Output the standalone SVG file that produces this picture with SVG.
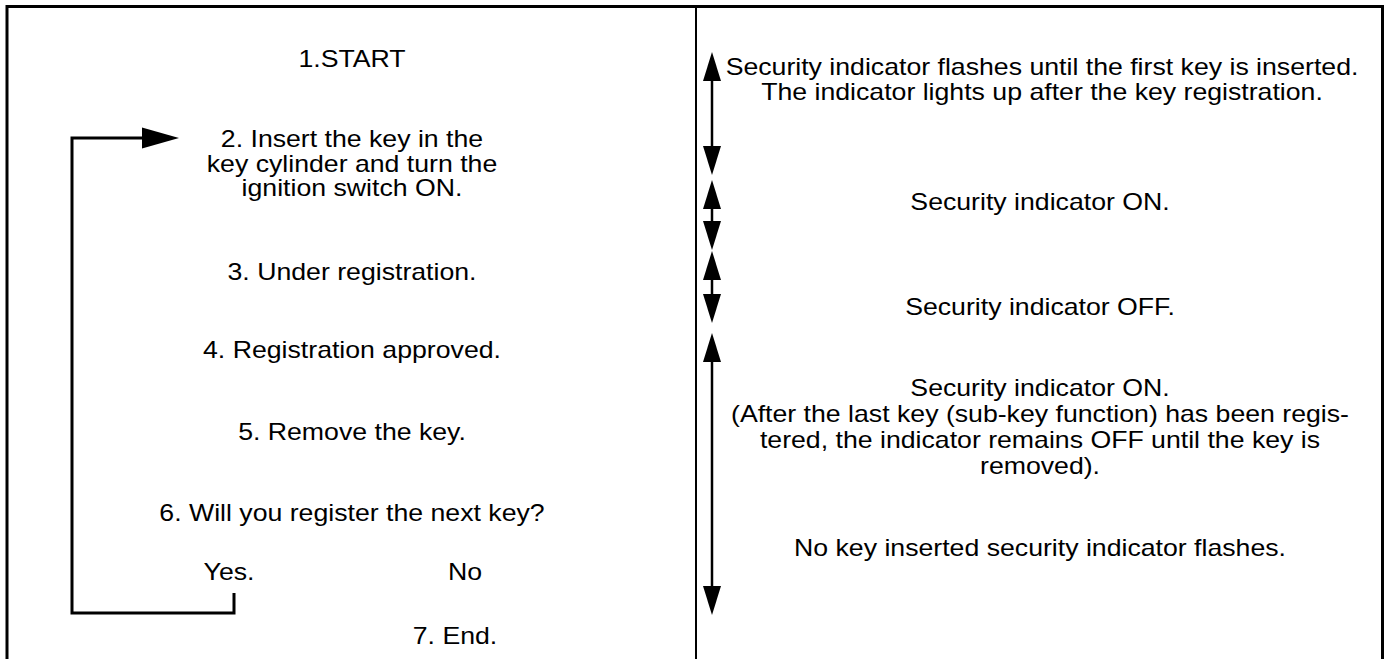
<svg xmlns="http://www.w3.org/2000/svg" width="1388" height="659" viewBox="0 0 1388 659">
<style>
  text { font-family: "Liberation Sans", Arial, Helvetica, sans-serif; font-size: 23.4px; fill: #000; text-anchor: middle; }
  .frame { fill: none; stroke: #000; stroke-width: 3; }
  .div { fill: none; stroke: #000; stroke-width: 2; }
  .conn { fill: none; stroke: #000; stroke-width: 3; }
  .span { fill: none; stroke: #000; stroke-width: 2.5; }
  .head { fill: #000; stroke: none; }
</style>
<rect width="1388" height="659" fill="#fff"/>
<g id="frame">
  <path class="frame" d="M7,659 V6.5 H1382.5 V659"/>
  <line class="div" x1="696" y1="6" x2="696" y2="659"/>
</g>
<g id="connectors">
  <path class="conn" d="M234,593 V613 H72 V138 H144"/>
  <polygon class="head" points="142,127.5 179,138 142,148.5"/>
  <line class="span" x1="712" y1="70" x2="712" y2="160"/>
  <polygon class="head" points="712,52 721,81 703,81"/>
  <polygon class="head" points="703,146 721,146 712,175"/>
  <line class="span" x1="712" y1="200" x2="712" y2="235"/>
  <polygon class="head" points="712,180 721,209 703,209"/>
  <polygon class="head" points="703,221 721,221 712,250"/>
  <line class="span" x1="712" y1="270" x2="712" y2="310"/>
  <polygon class="head" points="712,251 721,280 703,280"/>
  <polygon class="head" points="703,294 721,294 712,323"/>
  <line class="span" x1="712" y1="350" x2="712" y2="600"/>
  <polygon class="head" points="712,333 721,362 703,362"/>
  <polygon class="head" points="703,586 721,586 712,615"/>
</g>
<g id="n1"><text transform="matrix(1.14,0,0,1,352,67)">1.START</text></g>
<g id="n2">
  <text transform="matrix(1.14,0,0,1,352,147)">2. Insert the key in the</text>
  <text transform="matrix(1.14,0,0,1,352,172)">key cylinder and turn the</text>
  <text transform="matrix(1.14,0,0,1,352,196)">ignition switch ON.</text>
</g>
<g id="n3"><text transform="matrix(1.14,0,0,1,352,280)">3. Under registration.</text></g>
<g id="n4"><text transform="matrix(1.14,0,0,1,352,358)">4. Registration approved.</text></g>
<g id="n5"><text transform="matrix(1.14,0,0,1,352,440)">5. Remove the key.</text></g>
<g id="n6"><text transform="matrix(1.14,0,0,1,352,521)">6. Will you register the next key?</text></g>
<g id="yes"><text transform="matrix(1.14,0,0,1,229,580)">Yes.</text></g>
<g id="no"><text transform="matrix(1.14,0,0,1,465,580)">No</text></g>
<g id="n7"><text transform="matrix(1.14,0,0,1,455,644)">7. End.</text></g>
<g id="r1">
  <text transform="matrix(1.14,0,0,1,1042,75)">Security indicator flashes until the first key is inserted.</text>
  <text transform="matrix(1.14,0,0,1,1042,100)">The indicator lights up after the key registration.</text>
</g>
<g id="r2"><text transform="matrix(1.14,0,0,1,1040,210)">Security indicator ON.</text></g>
<g id="r3"><text transform="matrix(1.14,0,0,1,1040,315)">Security indicator OFF.</text></g>
<g id="r4">
  <text transform="matrix(1.14,0,0,1,1040,396)">Security indicator ON.</text>
  <text transform="matrix(1.14,0,0,1,1040,422)">(After the last key (sub-key function) has been regis-</text>
  <text transform="matrix(1.14,0,0,1,1040,448)">tered, the indicator remains OFF until the key is</text>
  <text transform="matrix(1.14,0,0,1,1040,474)">removed).</text>
</g>
<g id="r5"><text transform="matrix(1.14,0,0,1,1040,556)">No key inserted security indicator flashes.</text></g>
</svg>
